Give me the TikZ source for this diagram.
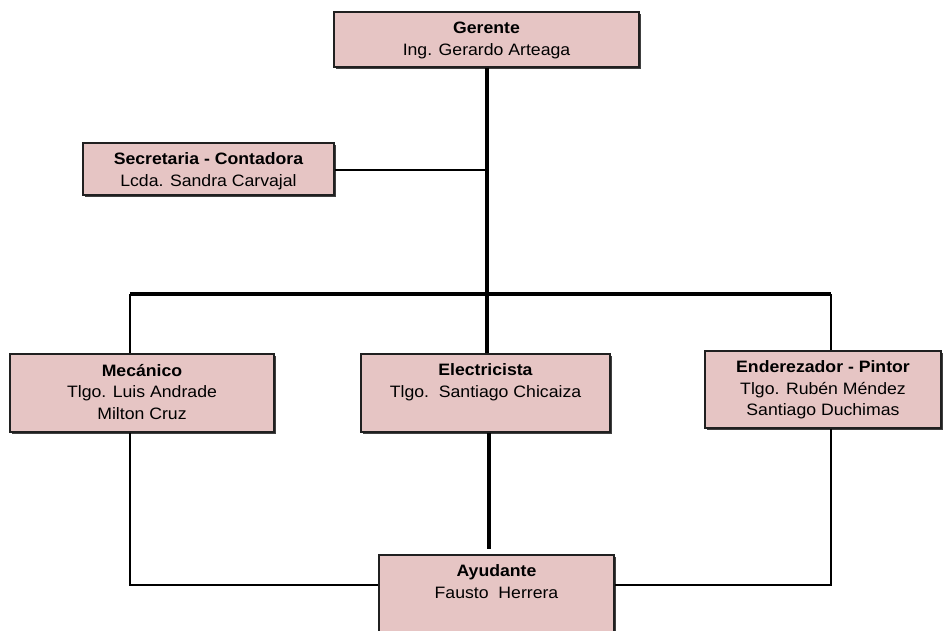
\documentclass[tikz,border=0pt]{standalone}
\usepackage{fontspec}
\setmainfont[FakeStretch=1.07]{Liberation Sans}
\usetikzlibrary{shadows}
\definecolor{boxfill}{HTML}{E6C5C4}
\definecolor{boxline}{HTML}{202020}
\tikzset{
  post/.style={draw=boxline, line width=1.2pt, fill=boxfill, inner sep=0pt,
    drop shadow={shadow xshift=2pt, shadow yshift=-2pt, fill=black!75, opacity=1}},
  link/.style={draw=black, line width=2.4pt},
  bus/.style={draw=black, line width=3.2pt},
  trunk/.style={draw=black, line width=4pt},
}
% box of width #1 and height #2, text set from the top
\newcommand{\postbox}[3]{\parbox[c][#2][t]{#1}{\centering\fontsize{16.5}{21.5}\selectfont\vspace*{10pt}#3\par}}
\begin{document}
\begin{tikzpicture}[x=1pt,y=-1pt]
\useasboundingbox (0,0) rectangle (943,630);
\clip (0,0) rectangle (943,630);

% staff
\node[post] (ger) at (486.5,39.5) {\postbox{305pt}{55pt}{\textbf{Gerente}\\Ing. Gerardo Arteaga}};
\node[post] (sec) at (208.5,169) {\postbox{251pt}{52pt}{\textbf{Secretaria - Contadora}\\Lcda. Sandra Carvajal}};
\node[post] (mec) at (142,393) {\postbox{264pt}{78pt}{\textbf{Mecánico}\\Tlgo. Luis Andrade\\Milton Cruz}};
\node[post] (ele) at (485.5,393) {\postbox{249pt}{78pt}{\textbf{Electricista}\\Tlgo.\ \ Santiago Chicaiza}};
\node[post] (end) at (823,389.5) {\postbox{236pt}{77pt}{\textbf{Enderezador - Pintor}\\Tlgo. Rubén Méndez\\Santiago Duchimas}};
\node[post] (ayu) at (496.5,598) {\postbox{235pt}{86pt}{\textbf{Ayudante}\\Fausto\ \ Herrera}};

% junction points
\coordinate (busL) at (130,294);
\coordinate (busR) at (831,294);
\coordinate (spine) at (487,294);
\coordinate (secJ) at (487,170);
\coordinate (ayuJ) at (489,549);

% upper structure
\draw[bus] (busL) -- (busR);
\draw[link] (sec.east |- secJ) -- (secJ);
\draw[link] (busL) -- (busL |- mec.north);
\draw[link] (busR) -- (busR |- end.north);
\draw[trunk] (ger.south -| spine) -- (spine |- ele.north);

% lower structure
\draw[link] (busL |- mec.south) -- (130,585) -- (ayu.west |- 0,585);
\draw[link] (busR |- end.south) -- (831,585) -- (ayu.east |- 0,585);
\draw[trunk] (ayuJ |- ele.south) -- (ayuJ);
\end{tikzpicture}
\end{document}
